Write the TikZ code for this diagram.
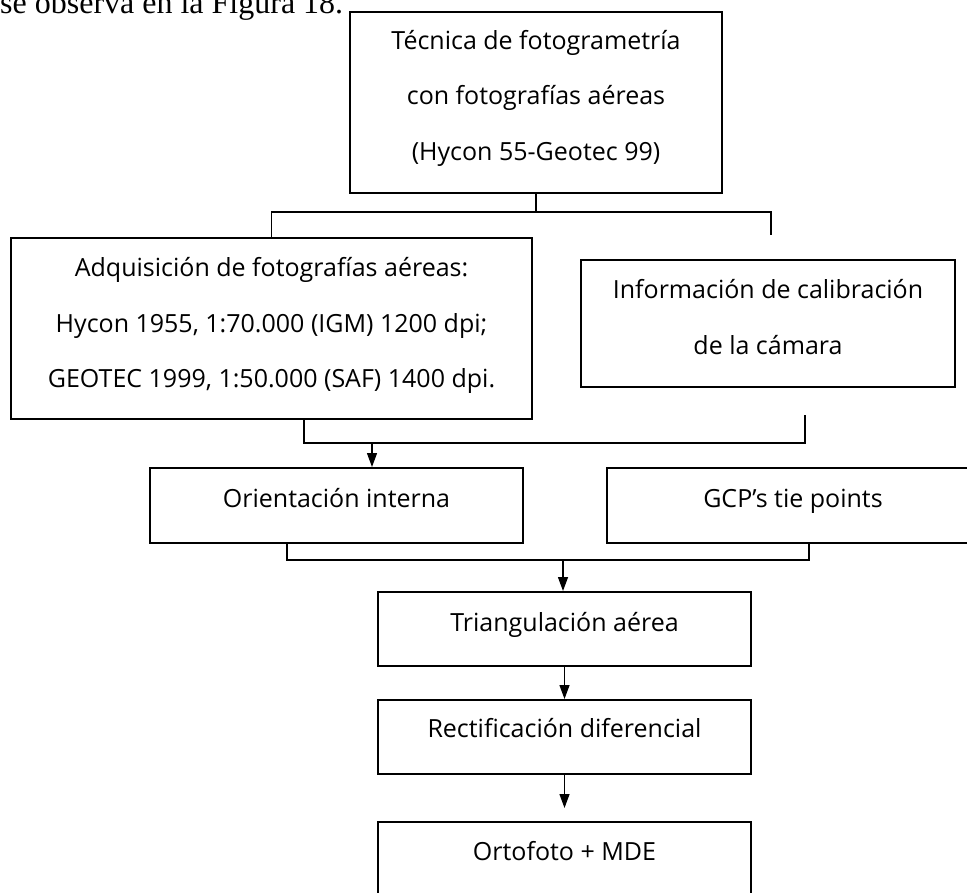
\documentclass[tikz,border=0pt]{standalone}
\usepackage{fontspec}
\setmainfont{Open Sans}
\newfontfamily\bodyserif{Liberation Serif}
\usetikzlibrary{arrows.meta}
\begin{document}
\begin{tikzpicture}[x=1pt,y=-1pt,
  boxnode/.style={draw=black, line width=2pt, inner sep=0pt},
  txt/.style={font=\fontsize{25}{55.5}\selectfont, align=center, inner sep=0pt},
  conn/.style={line width=1.3pt},
  arr/.style={conn, -{Triangle[length=14pt,width=10pt]}}]
\useasboundingbox (0,0) rectangle (967,893);
\clip (0,0) rectangle (967,893);
\fill[white] (0,0) rectangle (967,893);

\node[anchor=base west, inner sep=0pt, font=\bodyserif\fontsize{32}{38}\selectfont] (intro) at (0,14) {se observa en la Figura 18.};

% boxes
\node[boxnode, minimum width=372pt, minimum height=181pt] (top) at (536,102.5) {};
\node[boxnode, minimum width=521pt, minimum height=181pt] (adq) at (271.5,328.5) {};
\node[boxnode, minimum width=374pt, minimum height=127pt] (info) at (768,323.5) {};
\node[boxnode, minimum width=373pt, minimum height=75pt] (ori) at (336.5,505.5) {};
\node[boxnode, minimum width=372pt, minimum height=75pt] (gcp) at (793,505.5) {};
\node[boxnode, minimum width=373pt, minimum height=74pt] (tri) at (564.5,629) {};
\node[boxnode, minimum width=373pt, minimum height=74pt] (rect) at (564.5,737) {};
\node[boxnode, minimum width=373pt, minimum height=74pt] (orto) at (564.5,859) {};

% texts
\node[txt] (toptext) at (536,98) {Técnica de fotogrametría\\con fotografías aéreas\\(Hycon 55-Geotec 99)};
\node[txt] (adqtext) at (271.5,325.5) {Adquisición de fotografías aéreas:\\Hycon 1955, 1:70.000 (IGM) 1200 dpi;\\GEOTEC 1999, 1:50.000 (SAF) 1400 dpi.};
\node[txt] (infotext) at (768,317) {Información de calibración\\de la cámara};
\node[txt, anchor=base] (oritext) at (336.5,507) {Orientación interna};
\node[txt, anchor=base] (gcptext) at (793,507) {GCP’s tie points};
\node[txt, anchor=base] (tritext) at (564.5,631) {Triangulación aérea};
\node[txt, anchor=base] (recttext) at (564.5,737.5) {Rectificación diferencial};
\node[txt, anchor=base] (ortotext) at (564.5,860) {Ortofoto + MDE};

% connectors
\coordinate (j1) at (536,212);
\coordinate (infodrop) at (771,235);
\draw[conn] (top.south) -- (top.south |- j1);
\draw[conn] (adq.north) -- (adq.north |- j1) -- (infodrop |- j1) -- (infodrop);

\coordinate (a1) at (304,443);
\coordinate (i1) at (805,443);
\coordinate (i1top) at (805,415);
\draw[conn] (a1 |- adq.south) -- (a1) -- (i1) -- (i1top);
\coordinate (m1) at (372,443);
\draw[arr] (m1) -- (m1 |- ori.north);

\coordinate (o1) at (287,560);
\coordinate (g1) at (809,560);
\draw[conn] (o1 |- ori.south) -- (o1) -- (g1) -- (g1 |- gcp.south);
\coordinate (m2) at (563,560);
\draw[arr] (m2) -- (m2 |- tri.north);

\draw[arr] (tri.south) -- (rect.north);
\coordinate (r1) at (564.5,808);
\draw[arr] (rect.south) -- (r1);
\end{tikzpicture}
\end{document}
